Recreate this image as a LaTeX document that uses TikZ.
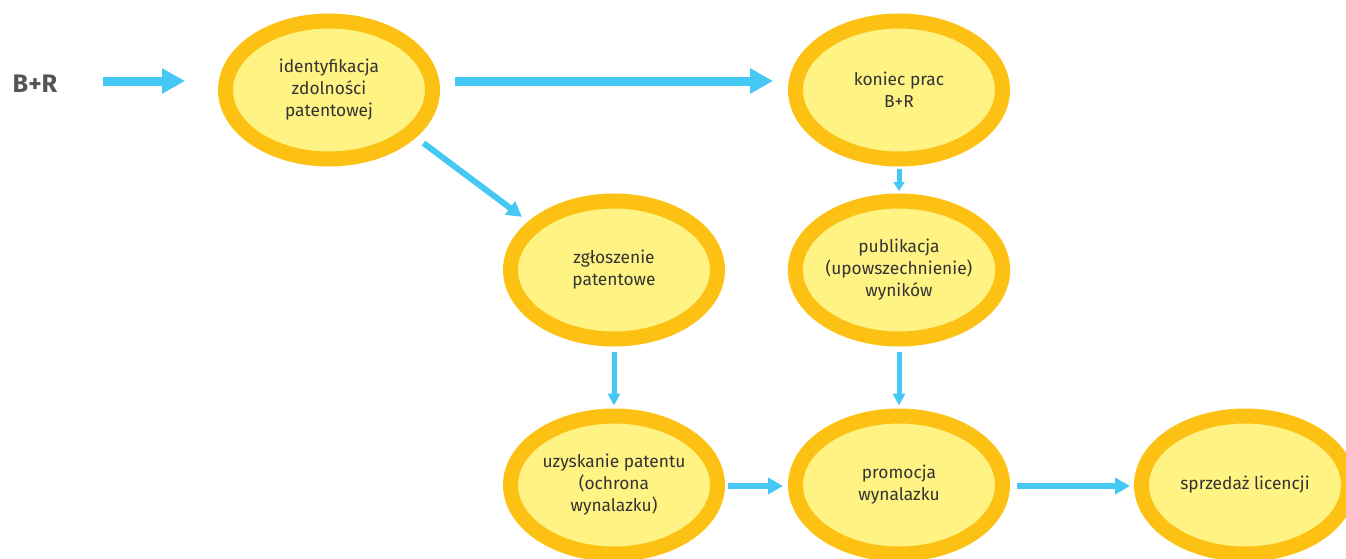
\documentclass[tikz,border=0pt]{standalone}
\usepackage{fontspec}
\setmainfont{Fira Sans}
\usetikzlibrary{shapes.geometric,arrows.meta}
\definecolor{ringc}{HTML}{FDC114}
\definecolor{fillc}{HTML}{FFF383}
\definecolor{arrc}{HTML}{45C8F3}
\definecolor{txtc}{HTML}{333333}
\definecolor{labc}{HTML}{555555}
\tikzset{
  stage/.style={ellipse, draw=ringc, fill=fillc, line width=11.25pt,
    minimum width=155.25pt, minimum height=103.5pt, inner sep=0pt,
    align=center, text=txtc, font=\fontsize{13}{16.5}\selectfont},
  bigarrow/.style={draw=arrc, line width=6.75pt,
    -{Triangle[length=17.25pt,width=18pt]}},
  midarrow/.style={draw=arrc, line width=4.5pt,
    -{Triangle[length=11.25pt,width=12pt]}},
  vertarrow/.style={draw=arrc, line width=3.75pt,
    -{Triangle[length=9pt,width=9pt]}},
  tinyarrow/.style={draw=arrc, line width=3.75pt,
    -{Triangle[length=6.75pt,width=8.25pt]}}
}
\begin{document}
\begin{tikzpicture}[x=0.75pt, y=-0.75pt]
\useasboundingbox (0,0) rectangle (1346,558);

% starting label
\node[text=labc, font=\fontsize{19}{22}\selectfont\bfseries, inner sep=0pt] (br) at (35,84) {B+R};

% process stages
\node[stage] (ident) at (329,90) {identyfikacja\\zdolności\\patentowej};
\node[stage] (koniec) at (899,90) {koniec prac\\B+R};
\node[stage] (zgl) at (614,270) {zgłoszenie\\patentowe};
\node[stage] (publ) at (899,270) {publikacja\\(upowszechnienie)\\wyników};
\node[stage] (uzysk) at (614,485) {uzyskanie patentu\\(ochrona\\wynalazku)};
\node[stage] (promo) at (899,485) {promocja\\wynalazku};
\node[stage] (sprz) at (1245,485) {sprzedaż licencji};

% flow between stages
\draw[bigarrow] ([shift={(45,-3)}]br.east) -- ([shift={(-33,-9)}]ident.west);
\draw[bigarrow] ([shift={(15,-9)}]ident.east) -- ([shift={(-15,-9)}]koniec.west);
\draw[midarrow] ([shift={(16,-1)}]ident.south east) -- ([shift={(-13.5,1)}]zgl.north west);
\draw[tinyarrow] ([shift={(0,2.5)}]koniec.south) -- ([shift={(0,-2.5)}]publ.north);
\draw[vertarrow] ([shift={(0,5)}]zgl.south) -- ([shift={(0,-3)}]uzysk.north);
\draw[vertarrow] ([shift={(0,5)}]publ.south) -- ([shift={(0,-3)}]promo.north);
\draw[midarrow] ([shift={(3,1)}]uzysk.east) -- ([shift={(-5,1)}]promo.west);
\draw[midarrow] ([shift={(7,1)}]promo.east) -- ([shift={(-4,1)}]sprz.west);
\end{tikzpicture}
\end{document}
